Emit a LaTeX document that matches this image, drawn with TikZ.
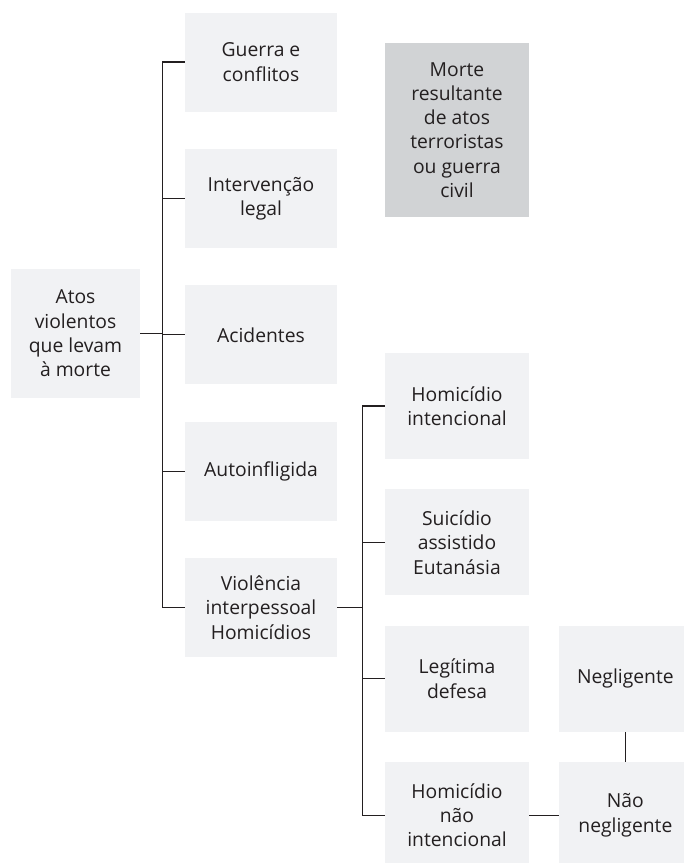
\documentclass[tikz,border=0pt]{standalone}
\usepackage{fontspec}
\setmainfont{Open Sans}
\usetikzlibrary{positioning}
\definecolor{boxlight}{HTML}{F1F2F4}
\definecolor{boxdark}{HTML}{D1D3D5}
\definecolor{ink}{HTML}{231F20}

\begin{document}
\begin{tikzpicture}[
  x=1pt, y=-1pt,
  font=\fontsize{19.3}{24.3}\selectfont,
  text=ink,
  cat/.style={fill=boxlight, align=center, inner sep=2pt, minimum width=152pt, minimum height=99pt},
  sub/.style={fill=boxlight, align=center, inner sep=2pt, minimum width=144pt, minimum height=106pt},
  leaf/.style={fill=boxlight, align=center, inner sep=2pt, minimum width=132pt, minimum height=106pt},
  note/.style={fill=boxdark, align=center, inner sep=2pt, minimum width=144pt, minimum height=174pt},
  conn/.style={draw=ink, line width=1.2pt}
]
\useasboundingbox (0,0) rectangle (684,863);

\node[fill=boxlight, align=center, minimum width=129pt, minimum height=129pt] (atos) at (75.5,333.5) {Atos\\violentos\\que levam\\à morte};

\node[cat] (guerra) at (261,62) {Guerra e\\conflitos};
\node[cat, below=37pt of guerra] (interv) {Intervenção\\legal};
\node[cat, below=37pt of interv] (acid) {Acidentes};
\node[cat, below=37pt of acid] (auto) {Autoinfligida};
\node[cat, below=37pt of auto] (violencia) {Violência\\interpessoal\\Homicídios};

\node[note] (morte) at (457,130) {Morte\\resultante\\de atos\\terroristas\\ou guerra\\civil};

\node[sub] (homint) at (457,406) {Homicídio\\intencional};
\node[sub, below=30pt of homint] (suic) {Suicídio\\assistido\\Eutanásia};
\node[sub, below=30pt of suic] (legit) {Legítima\\defesa};
\node[sub, below=30pt of legit] (homnao) {Homicídio\\não\\intencional};

\node[leaf, right=30pt of legit] (negl) {Negligente};
\node[leaf, right=30pt of homnao] (naoneg) {Não\\negligente};

% first level
\draw[conn] (atos.east) -- ++(23,0);
\draw[conn] (guerra.west) -- ++(-22,0) |- (violencia.west);
\foreach \n in {interv,acid,auto}
  \draw[conn] (\n.west) -- ++(-22,0);

% interpersonal violence
\draw[conn] (violencia.east) -- ++(26,0);
\draw[conn] (homint.west) -- ++(-22,0) |- (homnao.west);
\foreach \n in {suic,legit}
  \draw[conn] (\n.west) -- ++(-22,0);

% unintentional
\draw[conn] (homnao) -- (naoneg);
\draw[conn] (negl) -- (naoneg);

\end{tikzpicture}
\end{document}
